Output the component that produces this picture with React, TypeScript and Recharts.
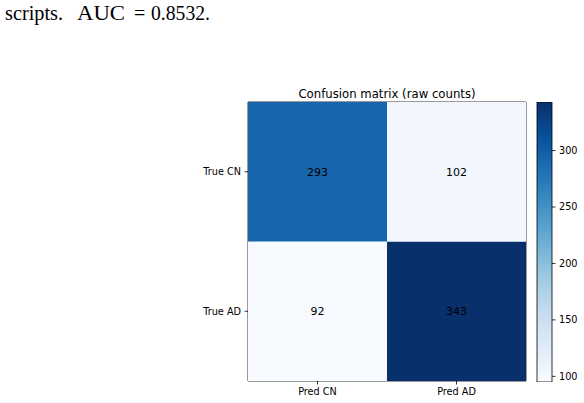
import React from 'react';
import { BarChart, Bar, XAxis, YAxis, Cell, LabelList, ReferenceArea } from 'recharts';

// ---- data ----
const predLabels = ['Pred CN', 'Pred AD'];
const trueLabels = ['True CN', 'True AD'];
const trueCNCounts = [293, 102];
const trueADCounts = [92, 343];
const colorbarTicks = [100, 150, 200, 250, 300];
const colorMin = 95;
const colorMax = 343;
const titleText = 'Confusion matrix (raw counts)';

const BLUES = ['#f7fbff', '#deebf7', '#c6dbef', '#9ecae1', '#6baed6', '#4292c6', '#2171b5', '#08519c', '#08306b'];

const hexToRgb = (h: string) => [parseInt(h.slice(1, 3), 16), parseInt(h.slice(3, 5), 16), parseInt(h.slice(5, 7), 16)];
const blues = (v: number) => {
  let t = (v - colorMin) / (colorMax - colorMin);
  t = Math.max(0, Math.min(1, t));
  const s = t * (BLUES.length - 1);
  const i = Math.min(BLUES.length - 2, Math.floor(s));
  const f = s - i;
  const a = hexToRgb(BLUES[i]);
  const b = hexToRgb(BLUES[i + 1]);
  const c = a.map((x, k) => Math.round(x + (b[k] - x) * f));
  return `rgb(${c[0]},${c[1]},${c[2]})`;
};

const data = predLabels.map((p, i) => ({ pred: p, cn: trueCNCounts[i], ad: trueADCounts[i] }));
const cbData = [{ name: 'cb', range: [colorMin, colorMax] }];

const FONT = '"DejaVu Sans", sans-serif';
const rowAD = () => 1;
const rowCN = () => 1;

export default function App() {
  return (
    <div style={{ position: 'absolute', left: 0, top: 0, width: 584, height: 403, background: '#fff' }}>
      <svg width={584} height={403} style={{ position: 'absolute', left: 0, top: 0 }}>
        <g fontFamily='"Liberation Serif", serif' fontSize={20} fill="#000">
          <text x={5} y={20} textLength={58} lengthAdjust="spacingAndGlyphs">scripts.</text>
          <text x={77} y={20} textLength={48} lengthAdjust="spacingAndGlyphs">AUC</text>
          <text x={134} y={20}>=</text>
          <text x={151} y={20} textLength={59} lengthAdjust="spacingAndGlyphs">0.8532.</text>
        </g>
        <text x={387} y={97.5} textAnchor="middle" fontFamily={FONT} fontSize={11.7} fill="#000">
          {titleText}
        </text>
      </svg>

      <div style={{ position: 'absolute', left: 0, top: 0 }}>
        <BarChart
          width={584}
          height={403}
          data={data}
          margin={{ top: 102, right: 58, bottom: 0, left: 188 }}
          barCategoryGap={0}
          barGap={0}
        >
          <XAxis
            dataKey="pred"
            height={22}
            tickSize={3.5}
            tickMargin={3.5}
            axisLine={false}
            tickLine={{ stroke: '#000', strokeWidth: 0.8 }}
            tick={{ fill: '#000', fontSize: 9.7, fontFamily: FONT }}
            interval={0}
          />
          <YAxis
            type="number"
            domain={[0, 2]}
            ticks={[0.5, 1.5]}
            width={60}
            tickSize={3.5}
            tickMargin={3.5}
            axisLine={false}
            tickLine={{ stroke: '#000', strokeWidth: 0.8 }}
            tick={{ fill: '#000', fontSize: 9.7, fontFamily: FONT }}
            tickFormatter={(v: number) => (v > 1 ? trueLabels[0] : trueLabels[1])}
          />
          <Bar dataKey={rowAD} stackId="m" isAnimationActive={false}>
            {data.map((d, i) => (
              <Cell key={`ad-${i}`} fill={blues(d.ad)} />
            ))}
            <LabelList dataKey="ad" position="center" fill="#000" fontSize={11} fontFamily={FONT} />
          </Bar>
          <Bar dataKey={rowCN} stackId="m" isAnimationActive={false}>
            {data.map((d, i) => (
              <Cell key={`cn-${i}`} fill={blues(d.cn)} />
            ))}
            <LabelList dataKey="cn" position="center" fill="#000" fontSize={11} fontFamily={FONT} />
          </Bar>
          <ReferenceArea y1={0} y2={2} fill="none" fillOpacity={0} stroke="#000" strokeWidth={0.8} ifOverflow="visible" />
        </BarChart>
      </div>

      <div style={{ position: 'absolute', left: 0, top: 0 }}>
        <BarChart
          width={584}
          height={403}
          data={cbData}
          margin={{ top: 102, right: 0, bottom: 21, left: 537 }}
          barCategoryGap={0}
          barGap={0}
        >
          <defs>
            <linearGradient id="bluesGrad" x1="0" y1="0" x2="0" y2="1">
              {BLUES.map((c, i) => (
                <stop key={c} offset={1 - i / (BLUES.length - 1)} stopColor={c} />
              )).reverse()}
            </linearGradient>
          </defs>
          <XAxis dataKey="name" hide />
          <YAxis
            type="number"
            orientation="right"
            domain={[colorMin, colorMax]}
            ticks={colorbarTicks}
            width={32}
            tickSize={3.5}
            tickMargin={3.5}
            axisLine={false}
            tickLine={{ stroke: '#000', strokeWidth: 0.8 }}
            tick={{ fill: '#000', fontSize: 9.7, fontFamily: FONT, textAnchor: 'start' }}
            allowDataOverflow
          />
          <Bar dataKey="range" fill="url(#bluesGrad)" stroke="#000" strokeWidth={0.8} isAnimationActive={false} />
        </BarChart>
      </div>
    </div>
  );
}
